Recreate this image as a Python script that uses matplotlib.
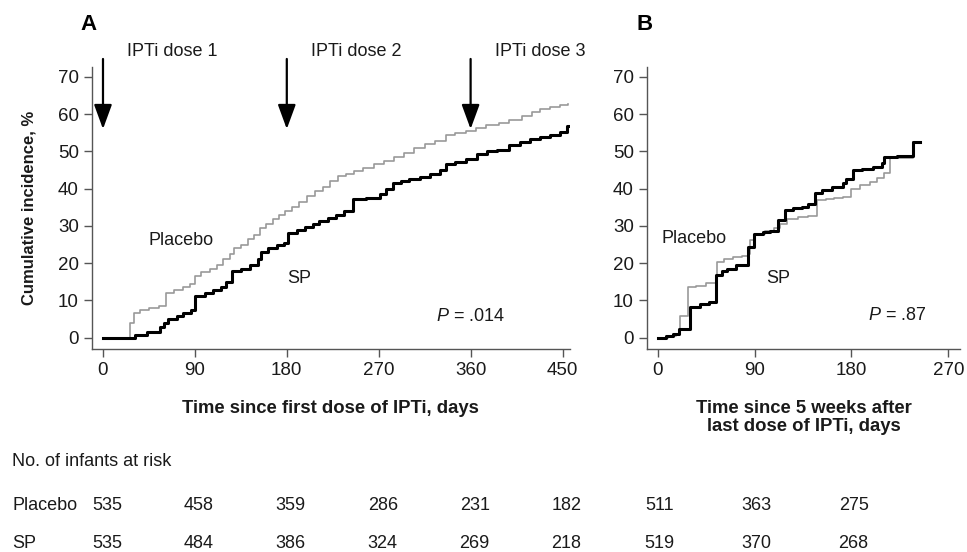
import matplotlib
matplotlib.use("Agg")
import matplotlib.pyplot as plt
from matplotlib.transforms import blended_transform_factory

plt.rcParams['font.family'] = ['Liberation Sans', 'DejaVu Sans']
plt.rcParams['mathtext.fontset'] = 'custom'
plt.rcParams['mathtext.it'] = 'Liberation Sans:italic'

# Panel A: time since first dose of IPTi (days) vs cumulative incidence (%)
a_placebo_days = [0, 26, 30, 36, 45, 55, 62, 70, 78, 85, 90, 96, 105, 112, 118, 124,
                  128, 135, 142, 148, 154, 160, 166, 172, 178, 185, 192, 200, 208, 215,
                  222, 230, 238, 246, 255, 265, 275, 285, 295, 305, 315, 325, 336, 345,
                  355, 365, 375, 388, 398, 410, 420, 428, 438, 448, 455]
a_placebo_vals = [0, 4.0, 6.5, 7.5, 8.0, 8.5, 12.0, 12.8, 13.5, 14.5, 16.5, 17.5, 18.5,
                  19.5, 21.0, 22.5, 24.0, 25.0, 26.5, 27.5, 29.5, 30.5, 31.8, 33.0, 34.0,
                  35.0, 36.5, 38.0, 39.5, 40.5, 42.0, 43.5, 44.0, 44.8, 45.5, 46.5, 47.5,
                  48.5, 49.5, 51.0, 52.0, 52.8, 54.5, 55.0, 55.5, 56.2, 57.0, 57.5, 58.5,
                  59.5, 60.5, 61.3, 62.0, 62.5, 62.8]
a_sp_days = [0, 31, 43, 56, 60, 64, 72, 78, 86, 90, 100, 108, 116, 120, 126, 135, 144,
             152, 155, 162, 170, 177, 181, 190, 198, 206, 212, 220, 228, 236, 245, 258,
             271, 277, 284, 292, 300, 310, 320, 330, 336, 345, 355, 366, 376, 386, 398,
             408, 418, 428, 438, 448, 454, 456]
a_sp_vals = [0, 0.8, 1.4, 2.8, 4.0, 5.0, 5.8, 6.5, 7.5, 11.3, 12.0, 12.7, 13.5, 15.0,
             18.0, 18.5, 19.5, 21.0, 23.0, 24.0, 24.8, 25.5, 28.2, 29.0, 29.8, 30.5,
             31.2, 32.0, 33.0, 34.0, 37.2, 37.5, 38.5, 40.0, 41.5, 42.0, 42.5, 43.2,
             43.8, 45.0, 46.5, 47.2, 48.0, 49.2, 50.0, 50.5, 51.8, 52.5, 53.2, 53.8,
             54.5, 55.3, 56.8, 56.8]

# Panel B: time since 5 weeks after last dose
b_placebo_days = [0, 10, 17, 21, 28, 36, 45, 55, 62, 70, 78, 84, 86, 90, 100, 108, 114,
                  120, 130, 140, 148, 156, 164, 172, 180, 188, 197, 204, 210, 216, 226,
                  237, 244]
b_placebo_vals = [0, 0.4, 1.0, 5.9, 13.5, 14.0, 14.8, 20.3, 21.0, 21.6, 22.0, 22.5, 26.1,
                  27.9, 28.5, 29.5, 30.6, 31.9, 32.3, 32.6, 36.9, 37.3, 37.6, 37.8, 40.0,
                  41.0, 41.8, 42.8, 44.1, 48.1, 48.3, 52.6, 52.6]
b_sp_days = [0, 8, 14, 20, 30, 39, 48, 54, 60, 64, 73, 84, 89, 98, 104, 112, 118, 126,
             134, 140, 146, 153, 162, 172, 175, 181, 190, 200, 208, 210, 222, 237, 244]
b_sp_vals = [0, 0.4, 1.0, 2.3, 8.2, 9.1, 9.5, 16.7, 17.8, 18.5, 19.4, 24.3, 27.9, 28.3,
             28.7, 31.5, 34.4, 34.7, 35.1, 36.0, 38.7, 39.6, 40.5, 41.4, 42.7, 45.0,
             45.3, 45.9, 46.8, 48.5, 48.7, 52.6, 52.6]

a_ticks = [0, 90, 180, 270, 360, 450]
b_ticks = [0, 90, 180, 270]
y_ticks = [0, 10, 20, 30, 40, 50, 60, 70]
dose_days = [0, 180, 360]
dose_labels = ["IPTi dose 1", "IPTi dose 2", "IPTi dose 3"]

# numbers at risk
risk_a_days = [0, 90, 180, 270, 360, 450]
risk_a_placebo = [535, 458, 359, 286, 231, 182]
risk_a_sp = [535, 484, 386, 324, 269, 218]
risk_b_days = [0, 90, 180]
risk_b_placebo = [511, 363, 275]
risk_b_sp = [519, 370, 268]

fig = plt.figure(figsize=(9.67, 5.52), dpi=100)
axA = fig.add_axes([0.0951, 0.368, 0.494, 0.511])
axB = fig.add_axes([0.669, 0.368, 0.324, 0.511])

spine_col = '#555555'
text_col = '#1a1a1a'
for ax in (axA, axB):
    for s in ('top', 'right'):
        ax.spines[s].set_visible(False)
    for s in ('left', 'bottom'):
        ax.spines[s].set_color(spine_col)
        ax.spines[s].set_linewidth(1.0)
    ax.tick_params(colors=spine_col, labelcolor=text_col, labelsize=13.5,
                   length=6, width=1.0)
    ax.set_yticks(y_ticks)
    ax.set_ylim(-3, 72.7)

axA.step(a_placebo_days, a_placebo_vals, where='post', color='#999999', lw=1.2)
axA.step(a_sp_days, a_sp_vals, where='post', color='black', lw=2.2)
axA.set_xlim(-10.8, 457)
axA.set_xticks(a_ticks)

axB.step(b_placebo_days, b_placebo_vals, where='post', color='#999999', lw=1.2)
axB.step(b_sp_days, b_sp_vals, where='post', color='black', lw=2.2)
axB.set_xlim(-10, 281)
axB.set_xticks(b_ticks)

# dose arrows
for d, lab in zip(dose_days, dose_labels):
    axA.annotate('', xy=(d, 56), xytext=(d, 74.8), annotation_clip=False,
                 arrowprops=dict(arrowstyle='-|>,head_length=0.6,head_width=0.22',
                                 color='black', lw=1.6, mutation_scale=25,
                                 shrinkA=0, shrinkB=0))
    axA.text(d + 24, 76.9, lab, fontsize=13, color=text_col, ha='left', va='center',
             clip_on=False)

fig.text(80 / 967, 1 - 24 / 552, 'A', fontsize=16, fontweight='bold',
         ha='left', va='center')
fig.text(636 / 967, 1 - 25 / 552, 'B', fontsize=16, fontweight='bold',
         ha='left', va='center')

axA.text(45, 26, 'Placebo', fontsize=13, color=text_col, ha='left', va='center')
axA.text(180, 16, 'SP', fontsize=13, color=text_col, ha='left', va='center')
axA.text(326, 5.6, '$P$ = .014', fontsize=13, color=text_col, ha='left', va='center')
axB.text(4, 26.5, 'Placebo', fontsize=13, color=text_col, ha='left', va='center')
axB.text(101, 15.8, 'SP', fontsize=13, color=text_col, ha='left', va='center')
axB.text(195, 6, '$P$ = .87', fontsize=13, color=text_col, ha='left', va='center')

axA.set_xlabel('Time since first dose of IPTi, days', fontsize=13.3,
               fontweight='bold', color=text_col, labelpad=15)
axB.set_xlabel('Time since 5 weeks after\nlast dose of IPTi, days', fontsize=13.3,
               fontweight='bold', color=text_col, labelpad=15, linespacing=1.1)
axA.set_ylabel('Cumulative incidence, %', fontsize=12, fontweight='bold',
               color=text_col, labelpad=15)

# at-risk table
tsize = 13
fig.text(12 / 967, 1 - 462 / 552, 'No. of infants at risk', fontsize=tsize,
         color=text_col, ha='left', va='center')
row_y = [1 - 505 / 552, 1 - 543 / 552]
for y, lab in zip(row_y, ['Placebo', 'SP']):
    fig.text(12 / 967, y, lab, fontsize=tsize, color=text_col, ha='left', va='center')
trA = blended_transform_factory(axA.transData, fig.transFigure)
trB = blended_transform_factory(axB.transData, fig.transFigure)
for vals, y in ((risk_a_placebo, row_y[0]), (risk_a_sp, row_y[1])):
    for d, v in zip(risk_a_days, vals):
        axA.text(d + 4, y, str(v), transform=trA, fontsize=tsize, color=text_col,
                 ha='center', va='center', clip_on=False)
for vals, y in ((risk_b_placebo, row_y[0]), (risk_b_sp, row_y[1])):
    for d, v in zip(risk_b_days, vals):
        axB.text(d + 2, y, str(v), transform=trB, fontsize=tsize, color=text_col,
                 ha='center', va='center', clip_on=False)

fig.savefig('out.png', dpi=100)
